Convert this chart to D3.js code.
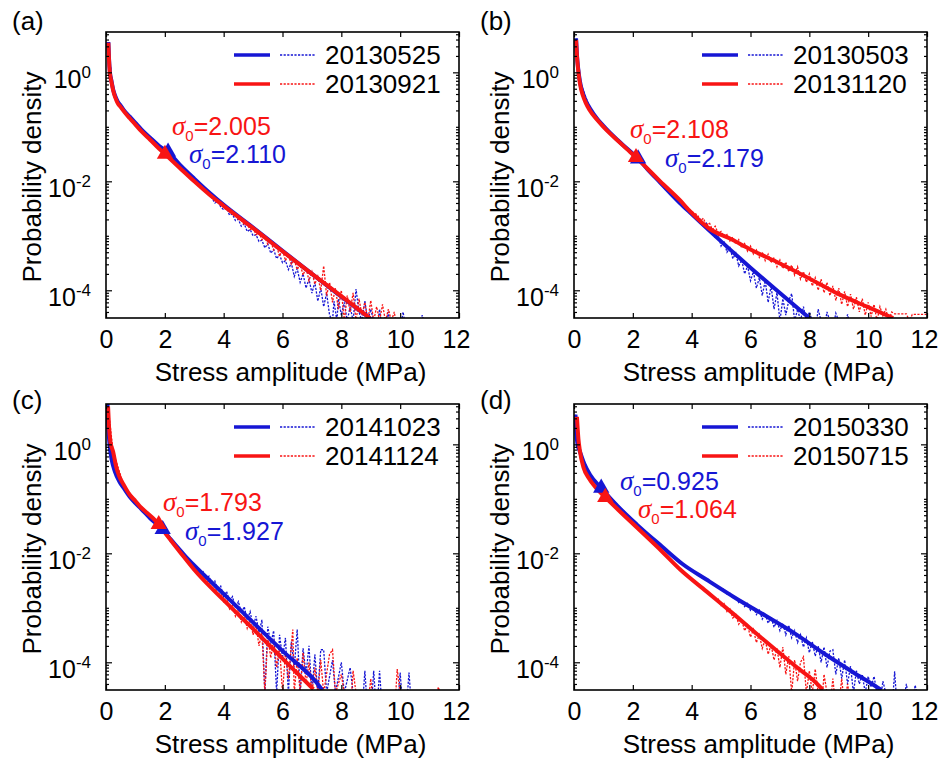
<!DOCTYPE html>
<html>
<head>
<meta charset="utf-8">
<script src="https://cdn.jsdelivr.net/npm/d3@7"></script>
<style>
  body { margin: 0; background: #fff; }
  text { font-family: "Liberation Sans", Arial, sans-serif; fill: #000; }
</style>
</head>
<body>
<svg id="fig" width="938" height="765"></svg>
<script>
// ---- data ----
const xTicks = [0, 2, 4, 6, 8, 10, 12];
const yMajor = [1e-4, 1e-2, 1];
const panelTags = ["(a)", "(b)", "(c)", "(d)"];
const legendDates = [
  ["20130525", "20130921"],
  ["20130503", "20131120"],
  ["20141023", "20141124"],
  ["20150330", "20150715"]
];
// [blue, red] threshold stress and the density at that point
const sigma0 = [[2.110, 2.005], [2.179, 2.108], [1.927, 1.793], [0.925, 1.064]];
const sigmaDensity = [[0.0345, 0.0316], [0.026, 0.0275], [0.0275, 0.034], [0.158, 0.107]];

// fitted curves [stress, density]
const fitA_blue = [[0.08,3.6],[0.1,1.9],[0.13,1.05],[0.19,0.68],[0.25,0.47],[0.32,0.36],[0.4,0.29],[0.5,0.245],[0.6,0.205],[0.8,0.155],[1.0,0.118],[1.2,0.09],[1.5,0.063],[1.8,0.045],[2.11,0.0345],[2.5,0.0205],[3.0,0.0112],[3.5,0.0063],[4.0,0.0037],[5.0,0.00142],[6.0,5.3e-4],[7.0,2.0e-4],[8.0,7.6e-5],[9.0,3.0e-5]];
const fitA_red = [[0.08,3.5],[0.1,1.8],[0.13,1.0],[0.19,0.65],[0.25,0.45],[0.32,0.34],[0.4,0.27],[0.5,0.23],[0.6,0.195],[0.8,0.145],[1.0,0.11],[1.2,0.083],[1.5,0.058],[1.8,0.04],[2.005,0.0316],[2.5,0.0178],[3.0,0.01],[3.5,0.0058],[4.0,0.00355],[5.0,0.00138],[6.0,5.2e-4],[7.0,2.0e-4],[8.0,7.8e-5],[8.97,3.1e-5]];
const fitB_blue = [[0.07,4.2],[0.1,2.1],[0.14,1.2],[0.2,0.69],[0.3,0.42],[0.4,0.3],[0.54,0.22],[0.8,0.138],[1.0,0.104],[1.22,0.078],[1.5,0.056],[1.8,0.04],[2.179,0.026],[2.5,0.0166],[2.93,9.5e-3],[3.6,4.0e-3],[4.0,2.5e-3],[5.0,7.9e-4],[6.0,2.6e-4],[7.0,8.9e-5],[8.0,3.1e-5]];
const fitB_red = [[0.07,3.9],[0.1,2.0],[0.14,1.12],[0.2,0.63],[0.3,0.38],[0.4,0.275],[0.54,0.2],[0.8,0.132],[1.0,0.1],[1.22,0.076],[1.5,0.055],[1.8,0.039],[2.108,0.0275],[2.5,0.017],[2.93,0.01],[3.6,4.5e-3],[3.95,2.8e-3],[4.63,1.32e-3],[5.3,8.9e-4],[6.0,5.6e-4],[7.0,3.1e-4],[8.14,1.5e-4],[9.0,8.5e-5],[10.0,4.9e-5],[10.85,3.1e-5]];
const fitC_blue = [[0.05,5.6],[0.08,2.0],[0.12,1.0],[0.2,0.5],[0.3,0.32],[0.45,0.21],[0.6,0.158],[0.8,0.11],[1.0,0.083],[1.2,0.065],[1.5,0.044],[1.927,0.0275],[2.2,0.018],[2.45,0.0126],[2.74,8.3e-3],[3.0,6.0e-3],[4.0,1.8e-3],[5.0,5.4e-4],[6.0,1.62e-4],[7.28,3.5e-5],[7.35,3.1e-5]];
const fitC_red = [[0.07,5.0],[0.1,2.24],[0.15,1.12],[0.24,0.74],[0.35,0.38],[0.45,0.26],[0.59,0.186],[0.8,0.12],[1.0,0.091],[1.16,0.072],[1.4,0.055],[1.6,0.044],[1.793,0.034],[2.0,0.024],[2.2,0.0174],[2.52,0.0105],[3.0,5.0e-3],[4.0,1.38e-3],[5.0,4.1e-4],[6.0,1.17e-4],[7.05,3.2e-5]];
const fitD_blue = [[0.05,3.5],[0.08,1.58],[0.12,1.0],[0.2,0.74],[0.35,0.44],[0.54,0.28],[0.925,0.158],[1.5,0.072],[2.13,0.034],[3.0,0.0132],[3.7,6.3e-3],[4.5,3.3e-3],[5.5,1.5e-3],[6.5,7.2e-4],[7.5,3.4e-4],[8.5,1.45e-4],[9.5,6.5e-5],[10.3,3.5e-5],[10.45,3.1e-5]];
const fitD_red = [[0.1,3.2],[0.15,1.26],[0.2,0.76],[0.32,0.38],[0.5,0.24],[0.75,0.158],[1.064,0.107],[1.5,0.063],[2.13,0.030],[3.0,0.0107],[3.6,5.1e-3],[4.5,2.0e-3],[5.5,7.1e-4],[6.5,2.45e-4],[7.5,8.7e-5],[8.37,3.5e-5],[8.45,3.1e-5]];

// measured densities [stress, density], 0 = empty bin
const pdfA_blue = [[0.08,3.6],[0.2,0.65],[0.4,0.29],[0.8,0.155],[1.5,0.063],[2.11,0.0345],[3.0,0.0112],[3.5,0.0063],[3.6,5.0e-3],[3.7,4.0e-3],[3.8,4.2e-3],[3.9,3.4e-3],[4.0,3.0e-3],[4.1,3.2e-3],[4.2,2.4e-3],[4.3,2.5e-3],[4.4,1.9e-3],[4.5,2.0e-3],[4.6,1.5e-3],[4.7,1.66e-3],[4.8,1.2e-3],[4.9,1.3e-3],[5.0,1.0e-3],[5.1,1.05e-3],[5.2,7.9e-4],[5.3,8.3e-4],[5.4,6.0e-4],[5.5,7.1e-4],[5.6,4.8e-4],[5.7,5.6e-4],[5.8,3.8e-4],[5.9,4.5e-4],[6.0,3.2e-4],[6.1,3.5e-4],[6.2,2.4e-4],[6.3,3.2e-4],[6.4,1.8e-4],[6.5,2.5e-4],[6.6,1.4e-4],[6.7,2.0e-4],[6.8,1.1e-4],[6.9,1.6e-4],[7.0,8.9e-5],[7.1,1.4e-4],[7.2,6.3e-5],[7.3,1.1e-4],[7.4,5e-5],[7.5,8.9e-5],[7.6,3.5e-5],[7.7,0],[7.75,6.3e-5],[7.85,0],[7.9,7e-5],[8.0,3.5e-5],[8.1,6e-5],[8.2,0],[8.3,5e-5],[8.4,0],[8.5,1.05e-4],[8.6,4e-5],[8.7,0],[8.8,6.3e-5],[8.9,0],[9.0,4.5e-5],[9.1,0],[9.25,0],[9.3,4.5e-5],[9.35,0],[9.55,0],[9.6,4e-5],[9.65,0],[10.05,0],[10.1,4e-5],[10.15,0],[10.7,0],[10.75,3.5e-5],[10.8,0]];
const pdfA_red = [[0.08,3.5],[0.2,0.62],[0.4,0.27],[0.8,0.145],[1.5,0.058],[2.005,0.0316],[3.0,0.01],[3.5,0.0058],[3.6,5.2e-3],[3.7,4.5e-3],[3.8,4.3e-3],[3.9,3.8e-3],[4.0,3.6e-3],[4.1,3.1e-3],[4.2,3.0e-3],[4.3,2.5e-3],[4.4,2.5e-3],[4.5,2.0e-3],[4.6,1.95e-3],[4.7,1.6e-3],[4.8,1.62e-3],[4.9,1.3e-3],[5.0,1.4e-3],[5.1,1.05e-3],[5.2,1.15e-3],[5.3,8.5e-4],[5.4,9.5e-4],[5.5,7e-4],[5.6,8e-4],[5.7,5.5e-4],[5.8,6.5e-4],[5.9,4.2e-4],[6.0,5.6e-4],[6.1,3.5e-4],[6.2,4.5e-4],[6.3,3.0e-4],[6.4,3.6e-4],[6.5,2.4e-4],[6.6,3.0e-4],[6.7,1.9e-4],[6.8,2.6e-4],[6.9,1.5e-4],[7.0,2.2e-4],[7.1,1.3e-4],[7.2,1.8e-4],[7.3,1.0e-4],[7.4,2.8e-4],[7.5,8e-5],[7.6,1.4e-4],[7.7,6e-5],[7.8,1.1e-4],[7.9,4.5e-5],[8.0,1.0e-4],[8.1,0],[8.2,8e-5],[8.3,4e-5],[8.4,9e-5],[8.5,0],[8.6,7e-5],[8.7,3.5e-5],[8.8,6e-5],[8.9,0],[9.0,6.5e-5],[9.1,0],[9.2,5e-5],[9.3,0],[9.4,5.5e-5],[9.5,0],[9.6,4.5e-5],[9.7,0],[9.8,4e-5],[9.85,0]];
const pdfB_blue = [[0.07,4.2],[0.2,0.69],[0.54,0.22],[1.0,0.104],[1.8,0.04],[2.5,0.0166],[3.6,4.0e-3],[4.0,2.5e-3],[4.1,2.3e-3],[4.2,1.9e-3],[4.3,2.0e-3],[4.4,1.5e-3],[4.5,1.7e-3],[4.6,1.2e-3],[4.7,1.35e-3],[4.8,9e-4],[4.9,1.05e-3],[5.0,6.5e-4],[5.1,8e-4],[5.2,5.0e-4],[5.3,6.0e-4],[5.4,3.8e-4],[5.5,4.8e-4],[5.6,2.8e-4],[5.7,3.6e-4],[5.8,2.0e-4],[5.9,2.8e-4],[6.0,1.5e-4],[6.1,2.2e-4],[6.2,1.1e-4],[6.3,1.7e-4],[6.4,8e-5],[6.5,1.5e-4],[6.6,6e-5],[6.7,1.2e-4],[6.8,4.5e-5],[6.9,9e-5],[7.0,0],[7.1,7e-5],[7.2,3.5e-5],[7.3,6.5e-5],[7.4,8.7e-5],[7.5,0],[7.6,4.5e-5],[7.7,0],[7.8,5e-5],[7.9,0],[8.0,4e-5],[8.1,0],[8.25,0],[8.3,4.5e-5],[8.4,0],[8.55,0],[8.6,4e-5],[8.7,0],[8.85,0],[8.9,3.8e-5],[9.0,0],[9.25,0],[9.3,3.6e-5],[9.35,0]];
const pdfB_red = [[0.07,3.9],[0.2,0.63],[0.54,0.2],[1.0,0.1],[1.8,0.039],[2.5,0.017],[3.6,4.5e-3],[4.0,2.8e-3],[4.2,2.4e-3],[4.3,1.9e-3],[4.4,2.1e-3],[4.5,1.55e-3],[4.6,1.75e-3],[4.7,1.3e-3],[4.8,1.5e-3],[4.9,1.1e-3],[5.0,1.2e-3],[5.1,9.5e-4],[5.2,1.05e-3],[5.3,8e-4],[5.4,9.5e-4],[5.5,7e-4],[5.6,8.5e-4],[5.7,6e-4],[5.8,7.2e-4],[5.9,5.2e-4],[6.0,6.5e-4],[6.1,4.6e-4],[6.2,5.5e-4],[6.3,4e-4],[6.4,5e-4],[6.5,3.5e-4],[6.6,4.6e-4],[6.7,3.2e-4],[6.8,4e-4],[6.9,2.7e-4],[7.0,3.6e-4],[7.1,2.5e-4],[7.2,3.3e-4],[7.3,2.2e-4],[7.4,2.9e-4],[7.5,1.9e-4],[7.6,2.7e-4],[7.7,1.6e-4],[7.8,2.2e-4],[7.9,1.4e-4],[8.0,2.0e-4],[8.1,1.2e-4],[8.2,1.7e-4],[8.3,1.0e-4],[8.4,1.6e-4],[8.5,9e-5],[8.6,1.4e-4],[8.7,8e-5],[8.8,1.2e-4],[8.9,6.5e-5],[9.0,1.1e-4],[9.1,5.5e-5],[9.2,9.5e-5],[9.3,5e-5],[9.4,8.5e-5],[9.5,4.5e-5],[9.6,7.5e-5],[9.7,4e-5],[9.8,7e-5],[9.9,3.5e-5],[10.0,6e-5],[10.1,3.3e-5],[10.2,5.5e-5],[10.3,0],[10.4,5e-5],[10.5,3.4e-5],[10.6,4.5e-5],[10.7,0],[10.8,4e-5],[10.9,3.7e-5],[11.3,3.7e-5],[11.4,0],[11.5,3.6e-5],[11.9,3.6e-5],[12.0,3.6e-5]];
const pdfC_blue = [[0.05,5.6],[0.2,0.5],[0.6,0.158],[1.2,0.065],[1.927,0.0275],[2.45,0.0126],[3.0,6.0e-3],[3.1,5.5e-3],[3.2,4.2e-3],[3.3,4.6e-3],[3.4,3.4e-3],[3.5,3.8e-3],[3.6,2.7e-3],[3.7,3.1e-3],[3.8,2.1e-3],[3.9,2.5e-3],[4.0,1.6e-3],[4.1,2.0e-3],[4.2,1.3e-3],[4.3,1.6e-3],[4.4,1.0e-3],[4.5,1.3e-3],[4.6,8e-4],[4.7,1.05e-3],[4.8,6e-4],[4.9,8.5e-4],[5.0,4.5e-4],[5.1,7e-4],[5.2,3.5e-4],[5.3,6e-4],[5.4,0],[5.5,4.5e-4],[5.6,2.2e-4],[5.7,3.8e-4],[5.8,0],[5.9,3.2e-4],[6.0,1.2e-4],[6.1,2.8e-4],[6.2,0],[6.3,2.4e-4],[6.4,8e-5],[6.5,4e-4],[6.6,0],[6.7,1.8e-4],[6.8,6e-5],[6.9,2.0e-4],[7.0,0],[7.1,1.4e-4],[7.2,0],[7.3,1.7e-4],[7.4,1.7e-4],[7.5,0],[7.7,1.1e-4],[7.8,0],[8.0,1.0e-4],[8.1,0],[8.3,8e-5],[8.4,0],[8.75,0],[8.8,7e-5],[8.85,0],[9.05,0],[9.1,7e-5],[9.15,0],[9.25,0],[9.3,7e-5],[9.35,0],[9.95,0],[10.0,6.5e-5],[10.05,0],[10.25,0],[10.3,6.5e-5],[10.35,0]];
const pdfC_red = [[0.07,5.0],[0.24,0.74],[0.59,0.186],[1.0,0.091],[1.6,0.044],[2.0,0.024],[2.52,0.0105],[3.0,5.0e-3],[3.1,4.6e-3],[3.2,3.6e-3],[3.3,3.8e-3],[3.4,2.9e-3],[3.5,3.1e-3],[3.6,2.2e-3],[3.7,2.5e-3],[3.8,1.7e-3],[3.9,2.0e-3],[4.0,1.3e-3],[4.1,1.5e-3],[4.2,9.5e-4],[4.3,1.15e-3],[4.4,7e-4],[4.5,9.5e-4],[4.6,5.5e-4],[4.7,7.5e-4],[4.8,4.2e-4],[4.9,6e-4],[5.0,3.2e-4],[5.1,5e-4],[5.2,2.0e-4],[5.3,3.6e-4],[5.4,0],[5.5,3.0e-4],[5.6,1.2e-4],[5.7,2.6e-4],[5.8,8e-5],[5.9,2.0e-4],[6.0,0],[6.1,1.5e-4],[6.2,5e-5],[6.35,4e-4],[6.4,0],[6.5,1.2e-4],[6.6,0],[6.7,1.5e-4],[6.8,4e-5],[6.9,1.0e-4],[7.0,0],[7.1,8e-5],[7.2,0],[7.3,1.1e-4],[7.4,0],[7.6,1.4e-4],[7.7,1.7e-4],[7.8,0],[8.0,6e-5],[8.1,0],[8.35,0],[8.4,7e-5],[8.5,0],[8.95,0],[9.0,5e-5],[9.05,0],[9.85,0],[9.9,7.5e-5],[10.0,0],[11.25,0],[11.3,3.5e-5],[11.35,0]];
const pdfD_blue = [[0.05,3.5],[0.2,0.74],[0.54,0.28],[0.925,0.158],[2.13,0.034],[3.0,0.0132],[3.7,6.3e-3],[4.5,3.3e-3],[5.0,2.2e-3],[5.1,2.2e-3],[5.2,1.8e-3],[5.3,1.85e-3],[5.4,1.5e-3],[5.5,1.6e-3],[5.6,1.25e-3],[5.7,1.35e-3],[5.8,1.05e-3],[5.9,1.2e-3],[6.0,9e-4],[6.1,1.05e-3],[6.2,7.5e-4],[6.3,9e-4],[6.4,6.2e-4],[6.5,7.8e-4],[6.6,5.2e-4],[6.7,6.8e-4],[6.8,4.4e-4],[6.9,5.8e-4],[7.0,3.8e-4],[7.1,5.2e-4],[7.2,3.2e-4],[7.3,4.8e-4],[7.4,2.8e-4],[7.5,3.8e-4],[7.6,2.3e-4],[7.7,3.2e-4],[7.8,1.9e-4],[7.9,2.8e-4],[8.0,1.5e-4],[8.1,2.4e-4],[8.2,1.3e-4],[8.3,2.0e-4],[8.4,1.0e-4],[8.5,1.9e-4],[8.6,8e-5],[8.7,1.6e-4],[8.8,1.7e-4],[8.9,6e-5],[9.0,1.2e-4],[9.1,5e-5],[9.2,1.1e-4],[9.3,4e-5],[9.4,8.5e-5],[9.5,0],[9.6,7e-5],[9.7,4e-5],[9.8,6e-5],[9.9,0],[10.0,5.5e-5],[10.1,3.5e-5],[10.2,5.5e-5],[10.3,0],[10.45,0],[10.5,4.5e-5],[10.6,0],[10.85,0],[10.9,6.8e-5],[10.95,0],[11.25,0],[11.3,4e-5],[11.35,0],[11.55,0],[11.6,3.8e-5],[11.65,0]];
const pdfD_red = [[0.1,3.2],[0.2,0.76],[0.5,0.24],[1.064,0.107],[2.13,0.03],[3.0,0.0107],[3.6,5.1e-3],[4.5,2.0e-3],[4.6,1.75e-3],[4.7,1.7e-3],[4.8,1.45e-3],[4.9,1.45e-3],[5.0,1.1e-3],[5.1,1.2e-3],[5.2,8.5e-4],[5.3,9.5e-4],[5.4,6.5e-4],[5.5,7.5e-4],[5.6,5e-4],[5.7,6e-4],[5.8,3.8e-4],[5.9,4.8e-4],[6.0,2.9e-4],[6.1,4.0e-4],[6.2,2.3e-4],[6.3,3.2e-4],[6.4,1.8e-4],[6.5,2.6e-4],[6.6,1.4e-4],[6.7,2.1e-4],[6.8,1.1e-4],[6.9,1.8e-4],[7.0,8e-5],[7.1,1.9e-4],[7.2,6e-5],[7.3,1.3e-4],[7.4,0],[7.5,1.1e-4],[7.6,4.5e-5],[7.7,1.0e-4],[7.8,1.25e-4],[7.9,0],[8.0,7e-5],[8.1,0],[8.2,7.5e-5],[8.3,0],[8.45,0],[8.5,6e-5],[8.6,0],[8.75,0],[8.8,5e-5],[8.85,0],[9.05,0],[9.1,5e-5],[9.15,0],[9.25,0],[9.3,4e-5],[9.35,0]];

const fits = [[fitA_blue, fitA_red], [fitB_blue, fitB_red], [fitC_blue, fitC_red], [fitD_blue, fitD_red]];
const pdfs = [[pdfA_blue, pdfA_red], [pdfB_blue, pdfB_red], [pdfC_blue, pdfC_red], [pdfD_blue, pdfD_red]];

// ---- layout ----
const W = 353, H = 286;
const origins = [[106, 32], [574, 32], [106, 404], [574, 404]];
const tagPos = [[12, 30], [480, 30], [12, 409], [480, 409]];
// [blue, red] annotation text anchors, relative to plot corner
const notePos = [
  [[83, 131], [66, 103]],
  [[91, 135], [56, 106]],
  [[79, 136], [57, 107]],
  [[46, 86], [64, 114]]
];
const colors = ["#1616d4", "#f81414"];

const svg = d3.select("#fig");
svg.append("defs").append("clipPath").attr("id", "plotClip")
  .append("rect").attr("width", W).attr("height", H);

const x = d3.scaleLinear().domain([0, 12]).range([0, W]);
const y = d3.scaleLog().domain([3.1e-5, 5.5]).range([H, 0]);
const yMinor = y.ticks().filter(v => !yMajor.some(m => Math.abs(m - v) < m * 1e-6));
const yPos = v => v > 0 ? y(v) : H + 3;

const dataLine = d3.line().x(d => x(d[0])).y(d => yPos(d[1]));
const fitLine = d3.line().x(d => x(d[0])).y(d => y(d[1])).curve(d3.curveMonotoneX);

svg.selectAll(".tag").data(panelTags).enter().append("text")
  .attr("x", (d, i) => tagPos[i][0]).attr("y", (d, i) => tagPos[i][1])
  .attr("font-size", 26).text(d => d);

fits.forEach((pair, i) => {
  const g = svg.append("g").attr("transform", `translate(${origins[i]})`);
  const plot = g.append("g").attr("clip-path", "url(#plotClip)");

  // measured densities, dotted
  pdfs[i].forEach((series, k) => {
    plot.append("path").datum(series)
      .attr("d", dataLine)
      .attr("fill", "none")
      .attr("stroke", colors[k])
      .attr("stroke-width", 1.3)
      .attr("stroke-dasharray", "2.2,1.4");
  });

  // fitted curves
  pair.forEach((series, k) => {
    plot.append("path").datum(series)
      .attr("d", fitLine)
      .attr("fill", "none")
      .attr("stroke", colors[k])
      .attr("stroke-width", 4);
  });

  // threshold markers
  [0, 1].forEach(k => {
    g.append("path")
      .attr("d", d3.symbol(d3.symbolTriangle, 115)())
      .attr("transform", `translate(${x(sigma0[i][k])},${y(sigmaDensity[i][k])})`)
      .attr("fill", colors[k]);
  });

  // axes, ticks pointing inward
  const bottom = g.append("g").attr("transform", `translate(0,${H})`)
    .call(d3.axisBottom(x).tickValues(xTicks).tickSizeInner(-5).tickSizeOuter(0)
      .tickPadding(12).tickFormat(d3.format("d")));
  bottom.attr("font-size", 25).attr("font-family", null);
  bottom.selectAll(".tick text").filter(d => d === 12).attr("dx", -3);
  g.append("g").call(d3.axisTop(x).tickValues(xTicks).tickSizeInner(-5).tickSizeOuter(0).tickFormat(""));

  const left = g.append("g")
    .call(d3.axisLeft(y).tickValues(yMajor).tickSizeInner(-6).tickSizeOuter(0).tickPadding(15));
  left.attr("font-size", 25).attr("font-family", null);
  left.selectAll(".tick text").text(null).attr("dy", "0.6em")
    .each(function(d) {
      const t = d3.select(this);
      t.append("tspan").text("10");
      t.append("tspan").attr("font-size", 17).attr("dy", "-0.6em")
        .text(Math.round(Math.log10(d)));
    });
  g.append("g").call(d3.axisLeft(y).tickValues(yMinor).tickSizeInner(-3).tickSizeOuter(0).tickFormat(""));
  g.append("g").attr("transform", `translate(${W},0)`)
    .call(d3.axisRight(y).tickValues(yMajor).tickSizeInner(-6).tickSizeOuter(0).tickFormat(""));
  g.append("g").attr("transform", `translate(${W},0)`)
    .call(d3.axisRight(y).tickValues(yMinor).tickSizeInner(-3).tickSizeOuter(0).tickFormat(""));
  g.selectAll(".domain").remove();
  g.selectAll(".tick line").attr("stroke", "#000").attr("stroke-width", 1.2);

  g.append("rect").attr("width", W).attr("height", H)
    .attr("fill", "none").attr("stroke", "#000").attr("stroke-width", 1.6);

  // axis titles
  g.append("text").attr("x", W / 2 + 8).attr("y", H + 63)
    .attr("text-anchor", "middle").attr("font-size", 26)
    .text("Stress amplitude (MPa)");
  g.append("text").attr("transform", `translate(-65,${H / 2 + 2}) rotate(-90)`)
    .attr("text-anchor", "middle").attr("font-size", 26)
    .text("Probability density");

  // legend
  legendDates[i].forEach((label, k) => {
    const ly = 23 + k * 29;
    g.append("line").attr("x1", 128).attr("x2", 164).attr("y1", ly).attr("y2", ly)
      .attr("stroke", colors[k]).attr("stroke-width", 3.5);
    g.append("line").attr("x1", 174).attr("x2", 210).attr("y1", ly).attr("y2", ly)
      .attr("stroke", colors[k]).attr("stroke-width", 1.3).attr("stroke-dasharray", "2.2,1.4");
    g.append("text").attr("x", 219).attr("y", ly + 9).attr("font-size", 26).text(label);
  });

  // sigma_0 annotations
  [0, 1].forEach(k => {
    const t = g.append("text")
      .attr("x", notePos[i][k][0]).attr("y", notePos[i][k][1])
      .attr("font-size", 25).style("fill", colors[k]);
    t.append("tspan").attr("font-family", "'Liberation Serif', 'Times New Roman', serif")
      .attr("font-style", "italic").attr("font-size", 27).text("σ");
    t.append("tspan").attr("font-size", 15).attr("dy", 6).text("0");
    t.append("tspan").attr("dy", -6).text("=" + d3.format(".3f")(sigma0[i][k]));
  });
});
</script>
</body>
</html>
